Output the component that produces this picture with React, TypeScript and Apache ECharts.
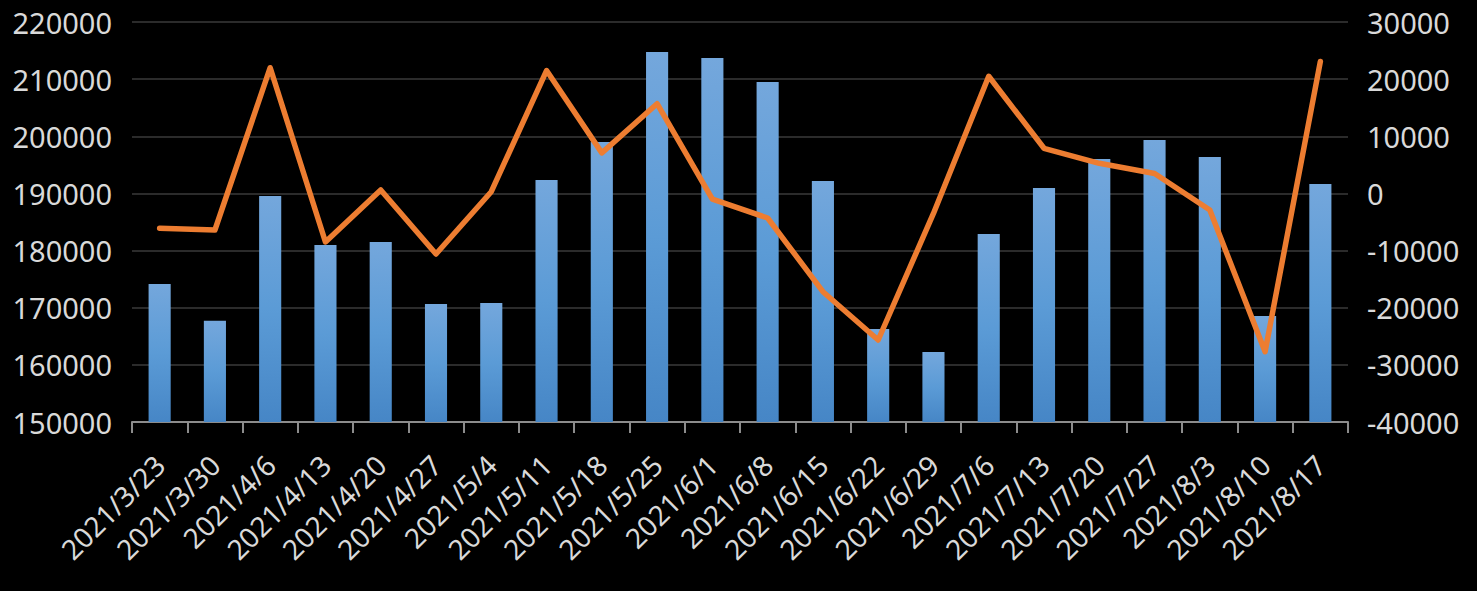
import React, { useEffect, useRef } from "react";
import * as echarts from "echarts";

const categories = [
  "2021/3/23", "2021/3/30", "2021/4/6", "2021/4/13", "2021/4/20", "2021/4/27",
  "2021/5/4", "2021/5/11", "2021/5/18", "2021/5/25", "2021/6/1", "2021/6/8",
  "2021/6/15", "2021/6/22", "2021/6/29", "2021/7/6", "2021/7/13", "2021/7/20",
  "2021/7/27", "2021/8/3", "2021/8/10", "2021/8/17",
];

const barValues = [
  174150, 167700, 189550, 180980, 181500, 170650, 170830, 192350, 199000, 214750,
  213700, 209500, 192180, 166280, 162250, 182900, 190950, 196030, 199350, 196380,
  168550, 191650,
];

const lineValues = [
  -6100, -6400, 22000, -8500, 600, -10600, 300, 21500, 7100, 15700, -1000,
  -4300, -17200, -25650, -3500, 20500, 7900, 5270, 3500, -2900, -27700, 23100,
];

const leftTicks = { min: 150000, max: 220000, interval: 10000 };
const rightTicks = { min: -40000, max: 30000, interval: 10000 };

export default function App() {
  const ref = useRef<HTMLDivElement>(null);
  useEffect(() => {
    if (!ref.current) return;
    const chart = echarts.init(ref.current, undefined, { renderer: "svg" });
    const labelFont = "'Noto Sans', sans-serif";
    const plain = (v: number) => String(v);
    chart.setOption({
      animation: false,
      backgroundColor: "#000000",
      grid: { left: 132, right: 129, top: 22, bottom: 169, containLabel: false },
      xAxis: {
        type: "category",
        data: categories,
        boundaryGap: true,
        axisLine: { show: true, onZero: false, lineStyle: { color: "#8c8c8c", width: 2 } },
        axisTick: { show: true, length: 11, lineStyle: { color: "#8c8c8c", width: 2 } },
        axisLabel: {
          rotate: 45,
          interval: 0,
          margin: 38,
          color: "#d9d9d9",
          fontSize: 28,
          fontFamily: labelFont,
        },
        splitLine: { show: false },
      },
      yAxis: [
        {
          type: "value",
          min: leftTicks.min,
          max: leftTicks.max,
          interval: leftTicks.interval,
          axisLine: { show: false },
          axisTick: { show: false },
          axisLabel: { color: "#d9d9d9", fontSize: 29, margin: 20, fontFamily: labelFont, formatter: plain },
          splitLine: { show: true, lineStyle: { color: "#2b2b2b", width: 2 } },
        },
        {
          type: "value",
          min: rightTicks.min,
          max: rightTicks.max,
          interval: rightTicks.interval,
          axisLine: { show: false },
          axisTick: { show: false },
          axisLabel: { color: "#d9d9d9", fontSize: 29, margin: 19, fontFamily: labelFont, formatter: plain },
          splitLine: { show: false },
        },
      ],
      series: [
        {
          type: "bar",
          data: barValues,
          yAxisIndex: 0,
          barWidth: "40%",
          itemStyle: {
            color: new echarts.graphic.LinearGradient(0, 0, 0, 1, [
              { offset: 0, color: "#74a7dc" },
              { offset: 0.5, color: "#5b9bd6" },
              { offset: 1, color: "#4686c6" },
            ]),
          },
        },
        {
          type: "line",
          data: lineValues,
          yAxisIndex: 1,
          showSymbol: false,
          symbol: "none",
          lineStyle: { color: "#ed7d31", width: 5.5, join: "round", cap: "round" },
          z: 3,
        },
      ],
    });
    return () => chart.dispose();
  }, []);
  return (
    <div
      ref={ref}
      style={{ position: "absolute", left: 0, top: 0, width: 1477, height: 591, background: "#000" }}
    />
  );
}
